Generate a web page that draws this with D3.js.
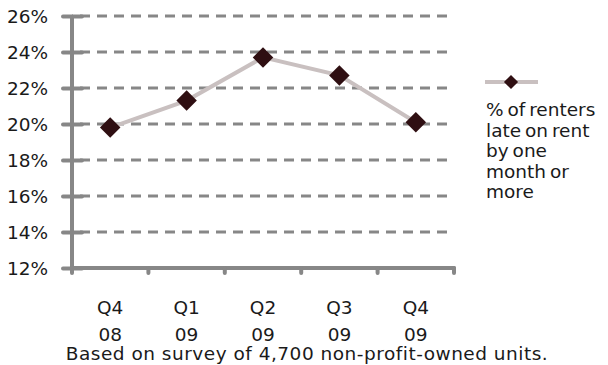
<!DOCTYPE html>
<html><head><meta charset="utf-8">
<script src="https://cdn.jsdelivr.net/npm/d3@7"></script>
<style>body{margin:0;background:#fff;} text{font-family:"DejaVu Sans",sans-serif;fill:#1a1a1a;}</style>
</head><body>
<svg id="c" width="608" height="365"></svg>
<script>
const categories = [["Q4","08"],["Q1","09"],["Q2","09"],["Q3","09"],["Q4","09"]];
const values = [19.8, 21.3, 23.7, 22.7, 20.1];
const yTicks = [12,14,16,18,20,22,24,26];
const seriesName = ["% of renters","late on rent","by one","month or","more"];
const footnote = "Based on survey of 4,700 non-profit-owned units.";

(function(){
const svg = d3.select("#c");
const pL = 72, pR = 454, pT = 16, pB = 268;
const fs = 18.5;
const x = d3.scaleBand().domain(d3.range(categories.length)).range([pL, pR]);
const y = d3.scaleLinear().domain([12, 26]).range([pB, pT]);
const axisCol = "#878787";

svg.append("g").selectAll("line").data(yTicks.filter(t => t > 12)).join("line")
  .attr("x1", pL).attr("x2", pR).attr("y1", d => y(d)).attr("y2", d => y(d))
  .attr("stroke", axisCol).attr("stroke-width", 3).attr("stroke-dasharray", "10,7")
  .attr("stroke-dashoffset", -8);

const ya = svg.append("g").attr("transform", `translate(${pL},0)`)
  .call(d3.axisLeft(y).tickValues(yTicks).tickFormat(d => d + "%").tickSize(10).tickPadding(14));
ya.select(".domain").remove();
ya.selectAll(".tick line").attr("x1", -9).attr("x2", 10).attr("stroke", axisCol).attr("stroke-width", 4).attr("stroke-linecap", "round");
ya.selectAll(".tick text").attr("font-size", fs).attr("font-family", "DejaVu Sans").attr("fill", "#1a1a1a").attr("dy", "0.36em");
svg.append("line").attr("x1", pL).attr("x2", pL).attr("y1", pT).attr("y2", pB + 4)
  .attr("stroke", axisCol).attr("stroke-width", 4);

svg.append("line").attr("x1", pL).attr("x2", pR).attr("y1", pB).attr("y2", pB)
  .attr("stroke", axisCol).attr("stroke-width", 4).attr("stroke-linecap", "round");
const bounds = d3.range(categories.length + 1).map(i => i < categories.length ? x(i) : x(i - 1) + x.bandwidth());
svg.append("g").selectAll("line").data(bounds).join("line")
  .attr("x1", d => d).attr("x2", d => d).attr("y1", pB).attr("y2", pB + 5)
  .attr("stroke", axisCol).attr("stroke-width", 4).attr("stroke-linecap", "round");

const xl = svg.append("g").selectAll("text").data(categories).join("text")
  .attr("x", (d, i) => x(i) + x.bandwidth() / 2).attr("text-anchor", "middle").attr("font-size", fs);
xl.append("tspan").attr("x", (d, i) => x(i) + x.bandwidth() / 2).attr("y", 314).text(d => d[0]);
xl.append("tspan").attr("x", (d, i) => x(i) + x.bandwidth() / 2).attr("y", 341).text(d => d[1]);

const cx = i => x(i) + x.bandwidth() / 2;
svg.append("path").datum(values)
  .attr("d", d3.line().x((d, i) => cx(i)).y(d => y(d)))
  .attr("fill", "none").attr("stroke", "#c9c0c0").attr("stroke-width", 4);
const dia = d3.symbol().type(d3.symbolSquare).size(210);
svg.append("g").selectAll("path").data(values).join("path")
  .attr("d", dia).attr("transform", (d, i) => `translate(${cx(i)},${y(d)}) rotate(45)`)
  .attr("fill", "#2f0f12");

svg.append("line").attr("x1", 485).attr("x2", 538).attr("y1", 82).attr("y2", 82)
  .attr("stroke", "#c9c0c0").attr("stroke-width", 4);
svg.append("path").attr("d", d3.symbol().type(d3.symbolSquare).size(100))
  .attr("transform", "translate(511,82) rotate(45)").attr("fill", "#2f0f12");
svg.append("g").selectAll("text").data(seriesName).join("text")
  .attr("x", 486).attr("y", (d, i) => 116 + i * 20.5).attr("font-size", fs).attr("word-spacing", -2).text(d => d);

svg.append("text").attr("x", 307).attr("y", 360).attr("text-anchor", "middle")
  .attr("font-size", fs).attr("letter-spacing", 0.5).text(footnote);
})();
</script>
</body></html>
